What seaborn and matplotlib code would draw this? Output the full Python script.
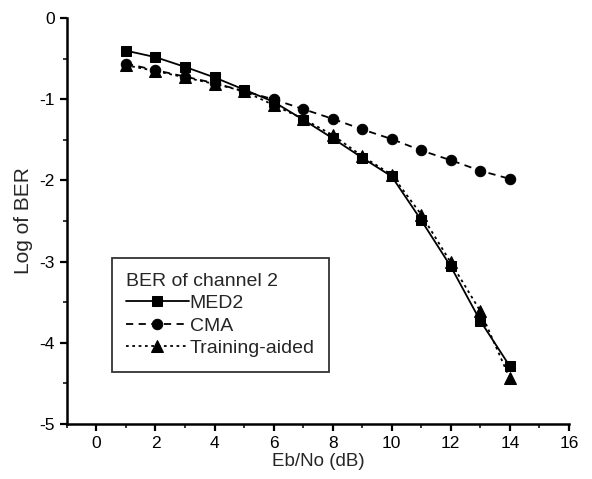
import numpy as np
import pandas as pd
import matplotlib
matplotlib.use("Agg")
import matplotlib.pyplot as plt
import seaborn as sns
from matplotlib.ticker import MultipleLocator

# Data
ebno = [1, 2, 3, 4, 5, 6, 7, 8, 9, 10, 11, 12, 13, 14]
med2 = [-0.40, -0.48, -0.60, -0.73, -0.88, -1.03, -1.25, -1.48, -1.72, -1.95, -2.49, -3.06, -3.73, -4.29]
cma = [-0.56, -0.64, -0.72, -0.80, -0.90, -1.00, -1.12, -1.24, -1.37, -1.49, -1.63, -1.75, -1.88, -1.98]
training = [-0.58, -0.65, -0.73, -0.81, -0.90, -1.07, -1.24, -1.44, -1.70, -1.93, -2.42, -3.01, -3.61, -4.44]

sns.set_style("ticks")
plt.rcParams['font.family'] = ['Liberation Sans', 'DejaVu Sans']
plt.rcParams['axes.unicode_minus'] = False

fig, ax = plt.subplots(figsize=(5.92, 4.79), dpi=100)
fig.subplots_adjust(left=0.113, right=0.961, bottom=0.115, top=0.962)

sns.lineplot(x=ebno, y=med2, ax=ax, color='black', linestyle='-', marker='s',
             markersize=7, markeredgecolor='black', linewidth=1.3, label='MED2')
sns.lineplot(x=ebno, y=cma, ax=ax, color='black', linestyle=(0, (4, 3)), marker='o',
             markersize=7.5, markeredgecolor='black', linewidth=1.3, label='CMA')
sns.lineplot(x=ebno, y=training, ax=ax, color='black', linestyle=(0, (1.5, 2)), marker='^',
             markersize=8, markeredgecolor='black', linewidth=1.3, label='Training-aided')

ax.set_xlim(-1, 16)
ax.set_ylim(-5, 0)
ax.xaxis.set_major_locator(MultipleLocator(2))
ax.xaxis.set_minor_locator(MultipleLocator(1))
ax.yaxis.set_major_locator(MultipleLocator(1))
ax.yaxis.set_minor_locator(MultipleLocator(0.5))
ax.tick_params(which='major', direction='out', length=5, width=1.6, labelsize=12.5, colors='black')
ax.tick_params(which='minor', direction='out', length=3, width=1.3)

for side in ['top', 'right']:
    ax.spines[side].set_visible(False)
for side in ['left', 'bottom']:
    ax.spines[side].set_linewidth(1.8)
    ax.spines[side].set_color('black')

ax.set_xlabel("Eb/No (dB)", fontsize=13.5, labelpad=2)
ax.set_ylabel("Log of BER", fontsize=15, labelpad=5)

leg = ax.legend(title="BER of channel 2", loc='lower left', bbox_to_anchor=(0.07, 0.105),
                frameon=True, fancybox=False, edgecolor='black', fontsize=14,
                title_fontsize=14, handlelength=3.2, handletextpad=0.05,
                borderpad=0.75, labelspacing=0.25, alignment='left')
leg.get_frame().set_linewidth(1.3)

plt.savefig("out.png", dpi=100)
plt.close()
